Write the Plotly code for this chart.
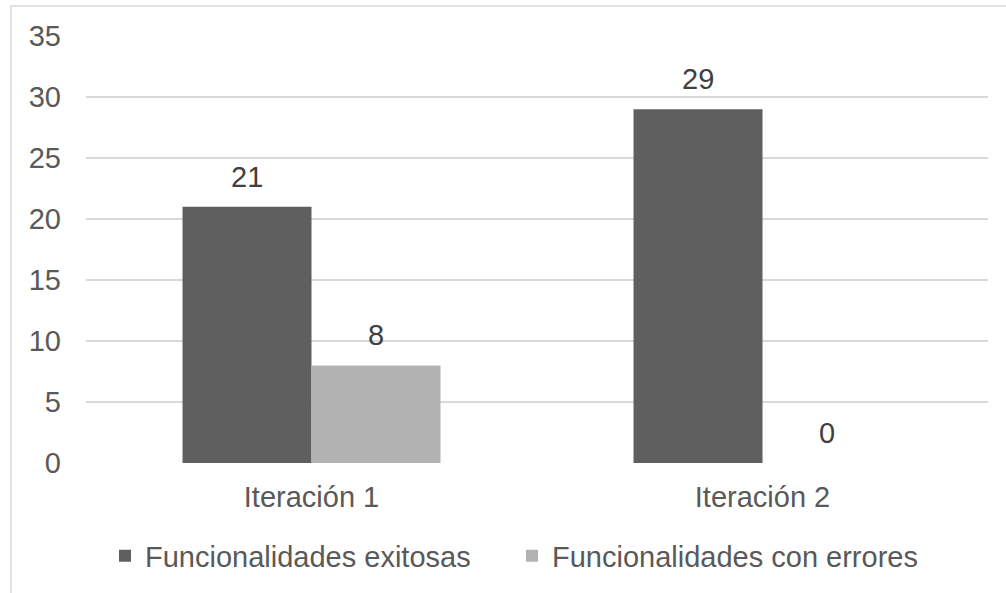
import plotly.graph_objects as go

# Chart data
categories = ["Iteración 1", "Iteración 2"]
series_names = ["Funcionalidades exitosas", "Funcionalidades con errores"]
exitosas = [21, 29]
con_errores = [8, 0]
y_ticks = [0, 5, 10, 15, 20, 25, 30, 35]

FONT = "Liberation Sans, Arial, sans-serif"
FS = 29
TICK_COLOR = "#595959"
LABEL_COLOR = "#404040"
GRID_COLOR = "#d9d9d9"

W, H = 1006, 593
M_L, M_R, M_T, M_B = 86, 18, 36, 130
plot_w = W - M_L - M_R
plot_h = H - M_T - M_B
BARGAP = 0.428


def px_to_paper_x(px):
    return (px - M_L) / plot_w


def px_to_paper_y(py):
    return (H - M_B - py) / plot_h


fig = go.Figure()
fig.add_trace(go.Bar(
    x=categories, y=exitosas, name=series_names[0],
    marker=dict(color="#5f5f5f", line=dict(width=0)),
))
fig.add_trace(go.Bar(
    x=categories, y=con_errores, name=series_names[1],
    marker=dict(color="#b2b2b2", line=dict(width=0)),
))

# Value labels above each bar
n_series = 2
bar_slot = (1 - BARGAP) / n_series
for s_idx, values in enumerate([exitosas, con_errores]):
    offset = (s_idx - (n_series - 1) / 2) * bar_slot
    for c_idx, v in enumerate(values):
        fig.add_annotation(
            x=c_idx + offset, y=v, xref="x", yref="y",
            text=str(v), showarrow=False,
            yanchor="bottom", yshift=12,
            font=dict(family=FONT, size=FS, color=LABEL_COLOR),
        )

# Outer chart-area frame
fig.add_shape(
    type="rect", xref="paper", yref="paper",
    x0=px_to_paper_x(11), x1=px_to_paper_x(1020),
    y0=px_to_paper_y(610), y1=px_to_paper_y(6),
    line=dict(color=GRID_COLOR, width=1.5), fillcolor="rgba(0,0,0,0)",
    layer="below",
)

fig.update_layout(
    width=W, height=H,
    margin=dict(l=M_L, r=M_R, t=M_T, b=M_B, autoexpand=False),
    paper_bgcolor="white", plot_bgcolor="white",
    barmode="group", bargap=BARGAP, bargroupgap=0,
    font=dict(family=FONT, size=FS, color=TICK_COLOR),
    showlegend=True,
    legend=dict(
        orientation="h", x=px_to_paper_x(105), xanchor="left",
        y=px_to_paper_y(556), yanchor="middle",
        font=dict(family=FONT, size=FS, color=TICK_COLOR),
        bgcolor="rgba(0,0,0,0)", entrywidth=362,
    ),
    xaxis=dict(
        range=[-0.5, 1.5], showgrid=False, zeroline=False, showline=False,
        ticks="", ticklabelstandoff=14,
        tickfont=dict(family=FONT, size=FS, color=TICK_COLOR),
    ),
    yaxis=dict(
        range=[0, 35], tickvals=y_ticks, showgrid=True, gridcolor=GRID_COLOR,
        gridwidth=1.5, zeroline=False, showline=False, ticks="",
        ticklabelstandoff=24,
        tickfont=dict(family=FONT, size=FS, color=TICK_COLOR),
    ),
)

fig.write_html("out.html")
